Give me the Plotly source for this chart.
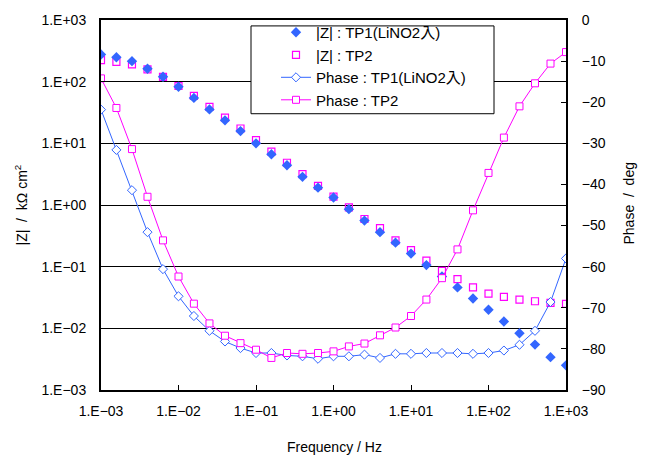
import plotly.graph_objects as go

# Measurement frequencies (Hz), 5 points per decade
freq = [1.0e-3, 1.58e-3, 2.51e-3, 3.98e-3, 6.31e-3,
        1.0e-2, 1.58e-2, 2.51e-2, 3.98e-2, 6.31e-2,
        1.0e-1, 1.58e-1, 2.51e-1, 3.98e-1, 6.31e-1,
        1.0, 1.58, 2.51, 3.98, 6.31,
        10.0, 15.8, 25.1, 39.8, 63.1,
        100.0, 158.0, 251.0, 398.0, 631.0,
        1000.0]

# |Z| in kOhm cm2
z_tp1 = [275, 249, 215, 162, 120,
         82.6, 54.5, 35.5, 23.6, 15.8,
         10.0, 6.67, 4.40, 2.86, 1.91,
         1.32, 0.857, 0.558, 0.363, 0.245,
         0.163, 0.106, 0.0692, 0.0461, 0.0304,
         0.0200, 0.0129, 0.00832, 0.00545, 0.00341,
         0.00251]
z_tp2 = [224, 209, 191, 158, 120,
         85.1, 58.9, 38.9, 26.1, 17.4,
         11.3, 7.36, 4.84, 3.16, 2.04,
         1.37, 0.912, 0.593, 0.421, 0.267,
         0.185, 0.125, 0.0853, 0.0627, 0.0461,
         0.0366, 0.0324, 0.0293, 0.0275, 0.0259,
         0.0249]

# Phase angle in degrees
ph_tp1 = [-21.8, -31.6, -41.4, -51.6, -60.6,
          -67.2, -72.0, -75.6, -78.2, -79.8,
          -81.0, -81.0, -81.6, -81.8, -82.4,
          -81.8, -81.8, -81.4, -82.2, -81.2,
          -81.2, -81.0, -81.0, -81.0, -81.2,
          -81.0, -80.4, -79.0, -75.6, -68.6,
          -58.0]
ph_tp2 = [-14.2, -21.4, -31.4, -43.0, -53.6,
          -62.4, -69.0, -73.8, -76.8, -78.6,
          -80.2, -82.2, -81.0, -81.2, -81.0,
          -80.6, -79.4, -78.7, -76.7, -74.8,
          -72.0, -68.0, -62.8, -55.8, -46.3,
          -37.2, -28.6, -21.0, -15.4, -10.6,
          -7.8]

decades = [1e-3, 1e-2, 1e-1, 1e0, 1e1, 1e2, 1e3]
decade_labels = ["1.E\u221203", "1.E\u221202", "1.E\u221201", "1.E+00",
                 "1.E+01", "1.E+02", "1.E+03"]
phase_ticks = [-90, -80, -70, -60, -50, -40, -30, -20, -10, 0]
phase_labels = ["\u221290", "\u221280", "\u221270", "\u221260", "\u221250",
                "\u221240", "\u221230", "\u221220", "\u221210", "0"]

name_z1 = "|Z| : TP1(LiNO2入)"
name_z2 = "|Z| : TP2"
name_p1 = "Phase : TP1(LiNO2入)"
name_p2 = "Phase : TP2"

BLUE = "#3366ff"
MAG = "#ff00ff"
FONT = "Liberation Sans, Noto Sans CJK JP, sans-serif"
NB = "\u00a0"

fig = go.Figure()

fig.add_trace(go.Scatter(
    x=freq, y=z_tp2, name=name_z2, mode="markers", legendrank=2,
    marker=dict(symbol="square-open", size=7, color=MAG, line=dict(width=1.2, color=MAG)),
))
fig.add_trace(go.Scatter(
    x=freq, y=z_tp1, name=name_z1, mode="markers", legendrank=1,
    marker=dict(symbol="diamond", size=8, color=BLUE, line=dict(width=0)),
))
fig.add_trace(go.Scatter(
    x=freq, y=ph_tp1, name=name_p1, mode="lines+markers", yaxis="y2", legendrank=3,
    line=dict(color=BLUE, width=1),
    marker=dict(symbol="diamond", size=7, color="white", line=dict(width=1, color=BLUE)),
))
fig.add_trace(go.Scatter(
    x=freq, y=ph_tp2, name=name_p2, mode="lines+markers", yaxis="y2", legendrank=4,
    line=dict(color=MAG, width=1),
    marker=dict(symbol="square", size=7, color="white", line=dict(width=1, color=MAG)),
))

L, R, T, B = 101, 81, 15, 71
W, H = 647, 461
PW, PH = W - L - R, H - T - B


def px_x(p):
    return (p - L) / PW


def px_y(p):
    return (T + PH - p) / PH


fig.update_layout(
    width=W, height=H,
    margin=dict(l=L, r=R, t=T, b=B, pad=0),
    paper_bgcolor="white", plot_bgcolor="white",
    font=dict(family=FONT, size=14, color="black"),
    showlegend=True,
    legend=dict(
        x=px_x(276), y=px_y(11), xanchor="left", yanchor="top",
        bgcolor="rgba(0,0,0,0)", borderwidth=0,
        font=dict(family=FONT, size=15, color="black"),
        itemwidth=30,
    ),
    xaxis=dict(
        type="log", range=[-3, 3],
        tickmode="array", tickvals=decades, ticktext=decade_labels,
        ticks="inside", ticklen=5, tickwidth=1, tickcolor="black",
        showgrid=False, zeroline=False,
        showline=True, linewidth=2, linecolor="black", mirror=True,
        ticklabelstandoff=7,
        tickfont=dict(family=FONT, size=14),
    ),
    yaxis=dict(
        type="log", range=[-3, 3],
        tickmode="array", tickvals=decades, ticktext=decade_labels,
        ticks="inside", ticklen=5, tickwidth=1, tickcolor="black",
        showgrid=True, gridcolor="black", gridwidth=1,
        zeroline=False,
        showline=True, linewidth=2, linecolor="black",
        ticklabelstandoff=10,
        tickfont=dict(family=FONT, size=14),
    ),
    yaxis2=dict(
        overlaying="y", side="right", range=[-90, 0],
        tickmode="array", tickvals=phase_ticks, ticktext=phase_labels,
        ticks="inside", ticklen=5, tickwidth=1, tickcolor="black",
        showgrid=False, zeroline=False,
        showline=True, linewidth=2, linecolor="black",
        ticklabelstandoff=11,
        tickfont=dict(family=FONT, size=14),
    ),
    shapes=[dict(
        type="rect", xref="paper", yref="paper",
        x0=px_x(251), x1=px_x(494), y0=px_y(110), y1=px_y(21),
        line=dict(color="black", width=1), fillcolor="white", layer="above",
    )],
    annotations=[
        dict(text=f"|Z|{NB}{NB}/{NB}{NB}kΩ{NB}cm<sup>2</sup>", xref="paper", yref="paper",
             x=px_x(22), y=px_y(203), textangle=-90, showarrow=False,
             xanchor="center", yanchor="middle", font=dict(family=FONT, size=14)),
        dict(text=f"Phase{NB}{NB}/{NB}{NB}deg", xref="paper", yref="paper",
             x=px_x(629), y=px_y(201), textangle=-90, showarrow=False,
             xanchor="center", yanchor="middle", font=dict(family=FONT, size=14)),
        dict(text="Frequency / Hz", xref="paper", yref="paper",
             x=px_x(334), y=px_y(448), showarrow=False,
             xanchor="center", yanchor="middle", font=dict(family=FONT, size=14)),
    ],
)

fig.write_html("out.html")
